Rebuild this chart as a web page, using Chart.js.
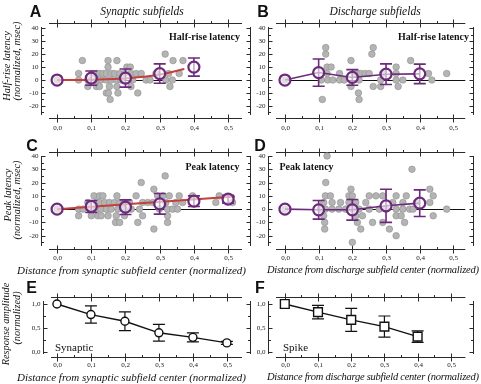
<!DOCTYPE html>
<html>
<head>
<meta charset="utf-8">
<script src="https://cdn.jsdelivr.net/npm/chart.js@4.4.1/dist/chart.umd.min.js"></script>
<style>
  body { margin: 0; background: #fff; }
  #wrap { position: relative; width: 481px; height: 384px; overflow: hidden; }
  canvas { position: absolute; left: 0; top: 0; }
  .t { position: absolute; white-space: nowrap; line-height: 1; color: #111;
       font-family: "Liberation Serif", "Times New Roman", serif; transform: translate(-50%, -50%); }
  .lt { font-family: "Liberation Sans", Arial, sans-serif; font-weight: bold; font-size: 16px; }
  .it { font-style: italic; }
  .bd { font-weight: bold; font-size: 10px; }
  .rot { transform: translate(-50%, -50%) rotate(-90deg); font-style: italic; font-size: 10.3px; }
  .lft { transform: translate(0, -50%); }
  .dis { font-size: 10.5px; letter-spacing: -0.25px; }
</style>
</head>
<body>
<div id="wrap">
  <canvas id="cA" width="481" height="384"></canvas>
  <canvas id="cB" width="481" height="384"></canvas>
  <canvas id="cC" width="481" height="384"></canvas>
  <canvas id="cD" width="481" height="384"></canvas>
  <canvas id="cE" width="481" height="384"></canvas>
  <canvas id="cF" width="481" height="384"></canvas>

  <div class="t lt" style="left:35.5px;top:11.5px">A</div>
  <div class="t lt" style="left:263px;top:11.5px">B</div>
  <div class="t lt" style="left:32px;top:146px">C</div>
  <div class="t lt" style="left:260px;top:146px">D</div>
  <div class="t lt" style="left:31.5px;top:287.5px">E</div>
  <div class="t lt" style="left:260px;top:287.5px">F</div>

  <div class="t it" style="left:142px;top:11.5px;font-size:11.5px">Synaptic subfields</div>
  <div class="t it" style="left:375px;top:11.5px;font-size:11.5px">Discharge subfields</div>

  <div class="t bd" style="left:204.5px;top:37px">Half-rise latency</div>
  <div class="t bd" style="left:433.5px;top:37px">Half-rise latency</div>
  <div class="t bd" style="left:212.5px;top:167px">Peak latency</div>
  <div class="t bd" style="left:306.5px;top:167px">Peak latency</div>

  <div class="t rot" style="left:7px;top:66px">Half-rise latency</div>
  <div class="t rot" style="left:16.5px;top:61px">(normalized, msec)</div>
  <div class="t rot" style="left:8px;top:195px">Peak latency</div>
  <div class="t rot" style="left:17px;top:200px">(normalized, msec)</div>
  <div class="t rot" style="left:5.5px;top:324px">Response amplitude</div>
  <div class="t rot" style="left:16.5px;top:318px">(normalized)</div>

  <div class="t it" style="left:131.5px;top:270px;font-size:11px">Distance from synaptic subfield center (normalized)</div>
  <div class="t it lft dis" style="left:267px;top:270px">Distance from discharge subfield center (normalized)</div>
  <div class="t it" style="left:131.5px;top:377px;font-size:11px">Distance from synaptic subfield center (normalized)</div>
  <div class="t it lft dis" style="left:267px;top:377px">Distance from discharge subfield center (normalized)</div>

  <div class="t lft" style="left:55px;top:347px;font-size:11px">Synaptic</div>
  <div class="t lft" style="left:283px;top:347px;font-size:11px">Spike</div>
</div>

<script>
// ---- data ----
var meanX = [0, 0.1, 0.2, 0.3, 0.4, 0.5];
var xMajor = [0, 0.1, 0.2, 0.3, 0.4, 0.5];
var xMinor = [0.05, 0.15, 0.25, 0.35, 0.45];
var xTickLabels = ['0,0', '0,1', '0,2', '0,3', '0,4', '0,5'];
var latTicks = [40, 30, 20, 10, 0, -10, -20];
var latMinor = [35, 25, 15, 5, -5, -15, -25];
var latTickLabels = ['40', '30', '20', '10', '0', '-10', '-20'];
var ampTicks = [1.0, 0.5, 0.0];
var ampMinor = [0.75, 0.25];
var ampTickLabels = ['1,0', '0,5', '0,0'];

// A - synaptic, half-rise latency
var aPtsX = [0, 0.074, 0.149, 0.175, 0.339, 0.368, 0.316, 0.149, 0.204, 0.214,
  0.063, 0.103, 0.115, 0.124, 0.134, 0.144, 0.158, 0.168, 0.183, 0.197, 0.216, 0.231, 0.246, 0.289, 0.326, 0.357,
  0.063, 0.09, 0.115, 0.129, 0.144, 0.158, 0.175, 0.187, 0.221, 0.26, 0.272, 0.318, 0.337,
  0.09, 0.115, 0.124, 0.153, 0.175, 0.216, 0.33, 0.144, 0.15, 0.178, 0.236, 0.155];
var aPtsY = [0, 15, 15, 15, 15, 15, 20, 10, 10, 10,
  5, 5, 5, 5, 5, 5, 5, 5, 5, 5, 5, 5, 5, 5, 5, 5,
  0, 0, 0, 0, 0, 0, 0, 0, 0, 0, 0, 0, 0,
  -5, -5, -5, -5, -5, -5, -5, -10, -10, -10, -10, -15];
var aMean = [0, 1.5, 1.5, 5, 10];
var aErr = [0, 5.5, 7, 7.5, 7];
var aFitX = [0, 0.1, 0.2, 0.3, 0.372];
var aFitY = [0, 0.3, 1.2, 4.2, 8.5];

// B - discharge, half-rise latency
var bPtsX = [0.121, 0.262, 0.121, 0.258, 0.196, 0.373, 0.125, 0.137, 0.33,
  0.125, 0.162, 0.206, 0.216, 0.225, 0.238, 0.25, 0.29, 0.33, 0.426, 0.48,
  0, 0.108, 0.127, 0.142, 0.162, 0.176, 0.22, 0.284, 0.33, 0.35, 0.436,
  0.196, 0.262, 0.284, 0.336, 0.218, 0.111, 0.22];
var bPtsY = [25, 25, 20, 20, 15, 15, 10, 10, 10,
  5, 5, 5, 5, 5, 5, 5, 5, 5, 5, 5,
  0, 0, 0, 0, 0, 0, 0, 0, 0, 0, 0,
  -5, -5, -5, -5, -10, -15, -15];
var bMean = [0, 5.75, 2, 4.5, 4.75];
var bErr = [0, 10.5, 6, 8, 7.5];

// C - synaptic, peak latency
var cPtsX = [0, 0.316, 0.246, 0.283,
  0.108, 0.124, 0.134, 0.175, 0.231, 0.294, 0.309, 0.328, 0.357, 0.396, 0.474,
  0.09, 0.115, 0.124, 0.139, 0.153, 0.168, 0.183, 0.197, 0.212, 0.25, 0.265, 0.28, 0.318, 0.347, 0.367, 0.464, 0.513,
  0.063, 0.076, 0.1, 0.115, 0.129, 0.144, 0.158, 0.178, 0.197, 0.217, 0.241, 0.299, 0.323, 0.338, 0.352,
  0.063, 0.1, 0.119, 0.129, 0.149, 0.173, 0.197, 0.25, 0.323,
  0.171, 0.183, 0.236, 0.323, 0.283];
var cPtsY = [0, 25, 20, 15,
  10, 10, 10, 10, 10, 10, 10, 10, 10, 10, 10,
  5, 5, 5, 5, 5, 5, 5, 5, 5, 5, 5, 5, 5, 5, 5, 5, 5,
  0, 0, 0, 0, 0, 0, 0, 0, 0, 0, 0, 0, 0, 0, 0,
  -5, -5, -5, -5, -5, -5, -5, -5, -5,
  -10, -10, -10, -10, -15];
var cMean = [0, 2, 1.5, 4, 6, 7.5];
var cErr = [0, 4.5, 5.5, 7.75, 4, 3];
var cFitX = [0, 0.52];
var cFitY = [0, 9.5];

// D - discharge, peak latency
var dPtsX = [0, 0.125, 0.377, 0.121, 0.196, 0.43,
  0.12, 0.135, 0.19, 0.2, 0.25, 0.27, 0.29, 0.33, 0.36, 0.44,
  0.115, 0.14, 0.165, 0.19, 0.21, 0.24, 0.32, 0.35, 0.39, 0.43,
  0.105, 0.12, 0.14, 0.16, 0.18, 0.2, 0.22, 0.25, 0.28, 0.3, 0.33, 0.35, 0.37, 0.38, 0.48,
  0.115, 0.21, 0.23, 0.33, 0.345, 0.44,
  0.118, 0.215, 0.26, 0.29, 0.355,
  0.118, 0.225, 0.31, 0.33, 0.2];
var dPtsY = [0, 40, 30, 20, 15, 15,
  10, 10, 10, 10, 10, 10, 10, 10, 10, 10,
  5, 5, 5, 5, 5, 5, 5, 5, 5, 5,
  0, 0, 0, 0, 0, 0, 0, 0, 0, 0, 0, 0, 0, 0, 0,
  -5, -5, -5, -5, -5, -5,
  -10, -10, -10, -10, -10,
  -15, -15, -15, -20, -25];
var dMean = [0, -0.5, -0.5, 2.5, 4.5];
var dErr = [0, 7, 7.75, 12.5, 10];

// E - synaptic response amplitude, F - spike
var eMean = [1.0, 0.78, 0.64, 0.40, 0.305, 0.19];
var eErr = [0, 0.18, 0.195, 0.175, 0.095, 0.03];
var fMean = [1.0, 0.83, 0.67, 0.53, 0.32];
var fErr = [0, 0.14, 0.24, 0.22, 0.12];

var purple = '#6c2a7b';
var red = '#c4403c';

// ---- plugins ----
var framePlugin = {
  id: 'frame',
  beforeDatasetsDraw: function (chart, args, o) {
    if (!o.yTicks) return;
    var ctx = chart.ctx, a = chart.chartArea, x = chart.scales.x, y = chart.scales.y;
    function seg(x1, y1, x2, y2) { ctx.beginPath(); ctx.moveTo(x1, y1); ctx.lineTo(x2, y2); ctx.stroke(); }
    function rp(v) { return Math.round(v) + 0.5; }
    ctx.save();
    ctx.strokeStyle = '#2a2a2a';
    ctx.fillStyle = '#1a1a1a';
    ctx.lineWidth = 1;
    var top = rp(a.top), bot = rp(a.bottom), lft = rp(a.left), rgt = rp(a.right);
    var xl = a.left + 8, xr = a.right - 8;
    seg(xl, top, xr, top);
    seg(xl, bot, xr, bot);
    seg(lft, a.top + 4, lft, a.bottom - 3);
    seg(rgt, a.top + 4, rgt, a.bottom - 3);

    ctx.font = '7px "Liberation Serif", serif';
    ctx.textAlign = 'center';
    ctx.textBaseline = 'middle';
    xMajor.forEach(function (v, i) {
      var px = rp(x.getPixelForValue(v));
      seg(px, top - 4, px, top + 4);
      seg(px, bot - 4, px, bot + 4);
      ctx.fillText(xTickLabels[i], px, bot + o.xGap);
    });
    xMinor.forEach(function (v) {
      var px = rp(x.getPixelForValue(v));
      seg(px, top - 2.5, px, top);
      seg(px, bot - 2.5, px, bot);
    });

    ctx.textAlign = 'right';
    o.yTicks.forEach(function (v, i) {
      var py = rp(y.getPixelForValue(v));
      seg(lft, py, lft + 4, py);
      seg(rgt - 4, py, rgt, py);
      ctx.fillText(o.yLabels[i], lft - 3, py);
    });
    o.yMinor.forEach(function (v) {
      var py = rp(y.getPixelForValue(v));
      seg(lft, py, lft + 2.5, py);
      seg(rgt - 2.5, py, rgt, py);
    });

    if (o.zero) {
      var p0 = rp(y.getPixelForValue(0));
      ctx.strokeStyle = '#111';
      seg(x.getPixelForValue(0), p0, xr, p0);
    }
    ctx.restore();
  }
};

var errPlugin = {
  id: 'errbars',
  beforeDatasetDraw: function (chart, args, o) {
    if (!o.err || args.index !== o.index) return;
    var ctx = chart.ctx, x = chart.scales.x, y = chart.scales.y;
    var data = chart.data.datasets[o.index].data;
    ctx.save();
    ctx.strokeStyle = o.color;
    ctx.lineWidth = o.width;
    data.forEach(function (d, i) {
      if (!o.err[i]) return;
      var px = x.getPixelForValue(d.x);
      var y1 = y.getPixelForValue(d.y + o.err[i]);
      var y2 = y.getPixelForValue(d.y - o.err[i]);
      ctx.beginPath();
      ctx.moveTo(px, y1); ctx.lineTo(px, y2);
      ctx.moveTo(px - o.cap, y1); ctx.lineTo(px + o.cap, y1);
      ctx.moveTo(px - o.cap, y2); ctx.lineTo(px + o.cap, y2);
      ctx.stroke();
    });
    ctx.restore();
  }
};

Chart.register(framePlugin, errPlugin);

function pts(xs, ys) {
  return ys.map(function (v, i) { return { x: xs[i], y: v }; });
}

function makePanel(id, box, xr, yr, datasets, frame, err) {
  return new Chart(document.getElementById(id), {
    type: 'scatter',
    data: { datasets: datasets },
    options: {
      responsive: false,
      animation: false,
      events: [],
      layout: { padding: { left: box[0], top: box[1], right: 481 - box[2], bottom: 384 - box[3] } },
      scales: {
        x: { display: false, min: xr[0], max: xr[1] },
        y: { display: false, min: yr[0], max: yr[1] }
      },
      plugins: {
        legend: { display: false },
        tooltip: { enabled: false },
        frame: frame,
        errbars: err
      }
    }
  });
}

function grayPts(xs, ys) {
  return { data: pts(xs, ys), pointRadius: 3.3, backgroundColor: '#b4b4b4',
           borderColor: '#8e8e8e', borderWidth: 0.6, order: 3 };
}
function fitLine(xs, ys) {
  return { data: pts(xs, ys), showLine: true, pointRadius: 0, borderColor: red,
           borderWidth: 2, cubicInterpolationMode: 'monotone', order: 2 };
}
function means(ys, joined) {
  return { data: pts(meanX, ys), showLine: joined, pointRadius: 5.5, borderColor: purple,
           borderWidth: 1.6, pointBorderWidth: 2.2, backgroundColor: 'rgba(255,255,255,0.6)', order: 1 };
}

var latFrame1 = { yTicks: latTicks, yMinor: latMinor, yLabels: latTickLabels, xGap: 10, zero: true };
var latFrame2 = { yTicks: latTicks, yMinor: latMinor, yLabels: latTickLabels, xGap: 8.5, zero: true };
var ampFrame = { yTicks: ampTicks, yMinor: ampMinor, yLabels: ampTickLabels, xGap: 7.5, zero: false };

makePanel('cA', [41, 23, 250, 118], [-0.047, 0.564], [-29.3, 44],
  [grayPts(aPtsX, aPtsY), fitLine(aFitX, aFitY), means(aMean, false)], latFrame1,
  { err: aErr, index: 2, color: purple, width: 1.6, cap: 6 });

makePanel('cB', [268, 23, 474, 118], [-0.0503, 0.559], [-29.3, 44],
  [grayPts(bPtsX, bPtsY), means(bMean, true)], latFrame1,
  { err: bErr, index: 1, color: purple, width: 1.6, cap: 6 });

makePanel('cC', [41, 152, 250, 249], [-0.047, 0.564], [-30, 43],
  [grayPts(cPtsX, cPtsY), fitLine(cFitX, cFitY), means(cMean, false)], latFrame2,
  { err: cErr, index: 2, color: purple, width: 1.6, cap: 6 });

makePanel('cD', [268, 152, 474, 249], [-0.0503, 0.559], [-30, 43],
  [grayPts(dPtsX, dPtsY), means(dMean, true)], latFrame2,
  { err: dErr, index: 1, color: purple, width: 1.6, cap: 6 });

makePanel('cE', [43, 297, 250, 357], [-0.041, 0.568], [-0.104, 1.146],
  [{ data: pts(meanX, eMean), showLine: true, pointRadius: 4, borderColor: '#111', borderWidth: 1.4,
     pointBorderWidth: 1.4, pointBackgroundColor: '#fff' }], ampFrame,
  { err: eErr, index: 0, color: '#111', width: 1.2, cap: 6 });

makePanel('cF', [268, 297, 476, 357], [-0.0506, 0.568], [-0.104, 1.146],
  [{ data: pts(meanX, fMean), showLine: true, pointStyle: 'rect', pointRadius: 6.2, borderColor: '#111',
     borderWidth: 1.4, pointBorderWidth: 1.4, pointBackgroundColor: '#fff' }], ampFrame,
  { err: fErr, index: 0, color: '#111', width: 1.2, cap: 6 });
</script>
</body>
</html>
